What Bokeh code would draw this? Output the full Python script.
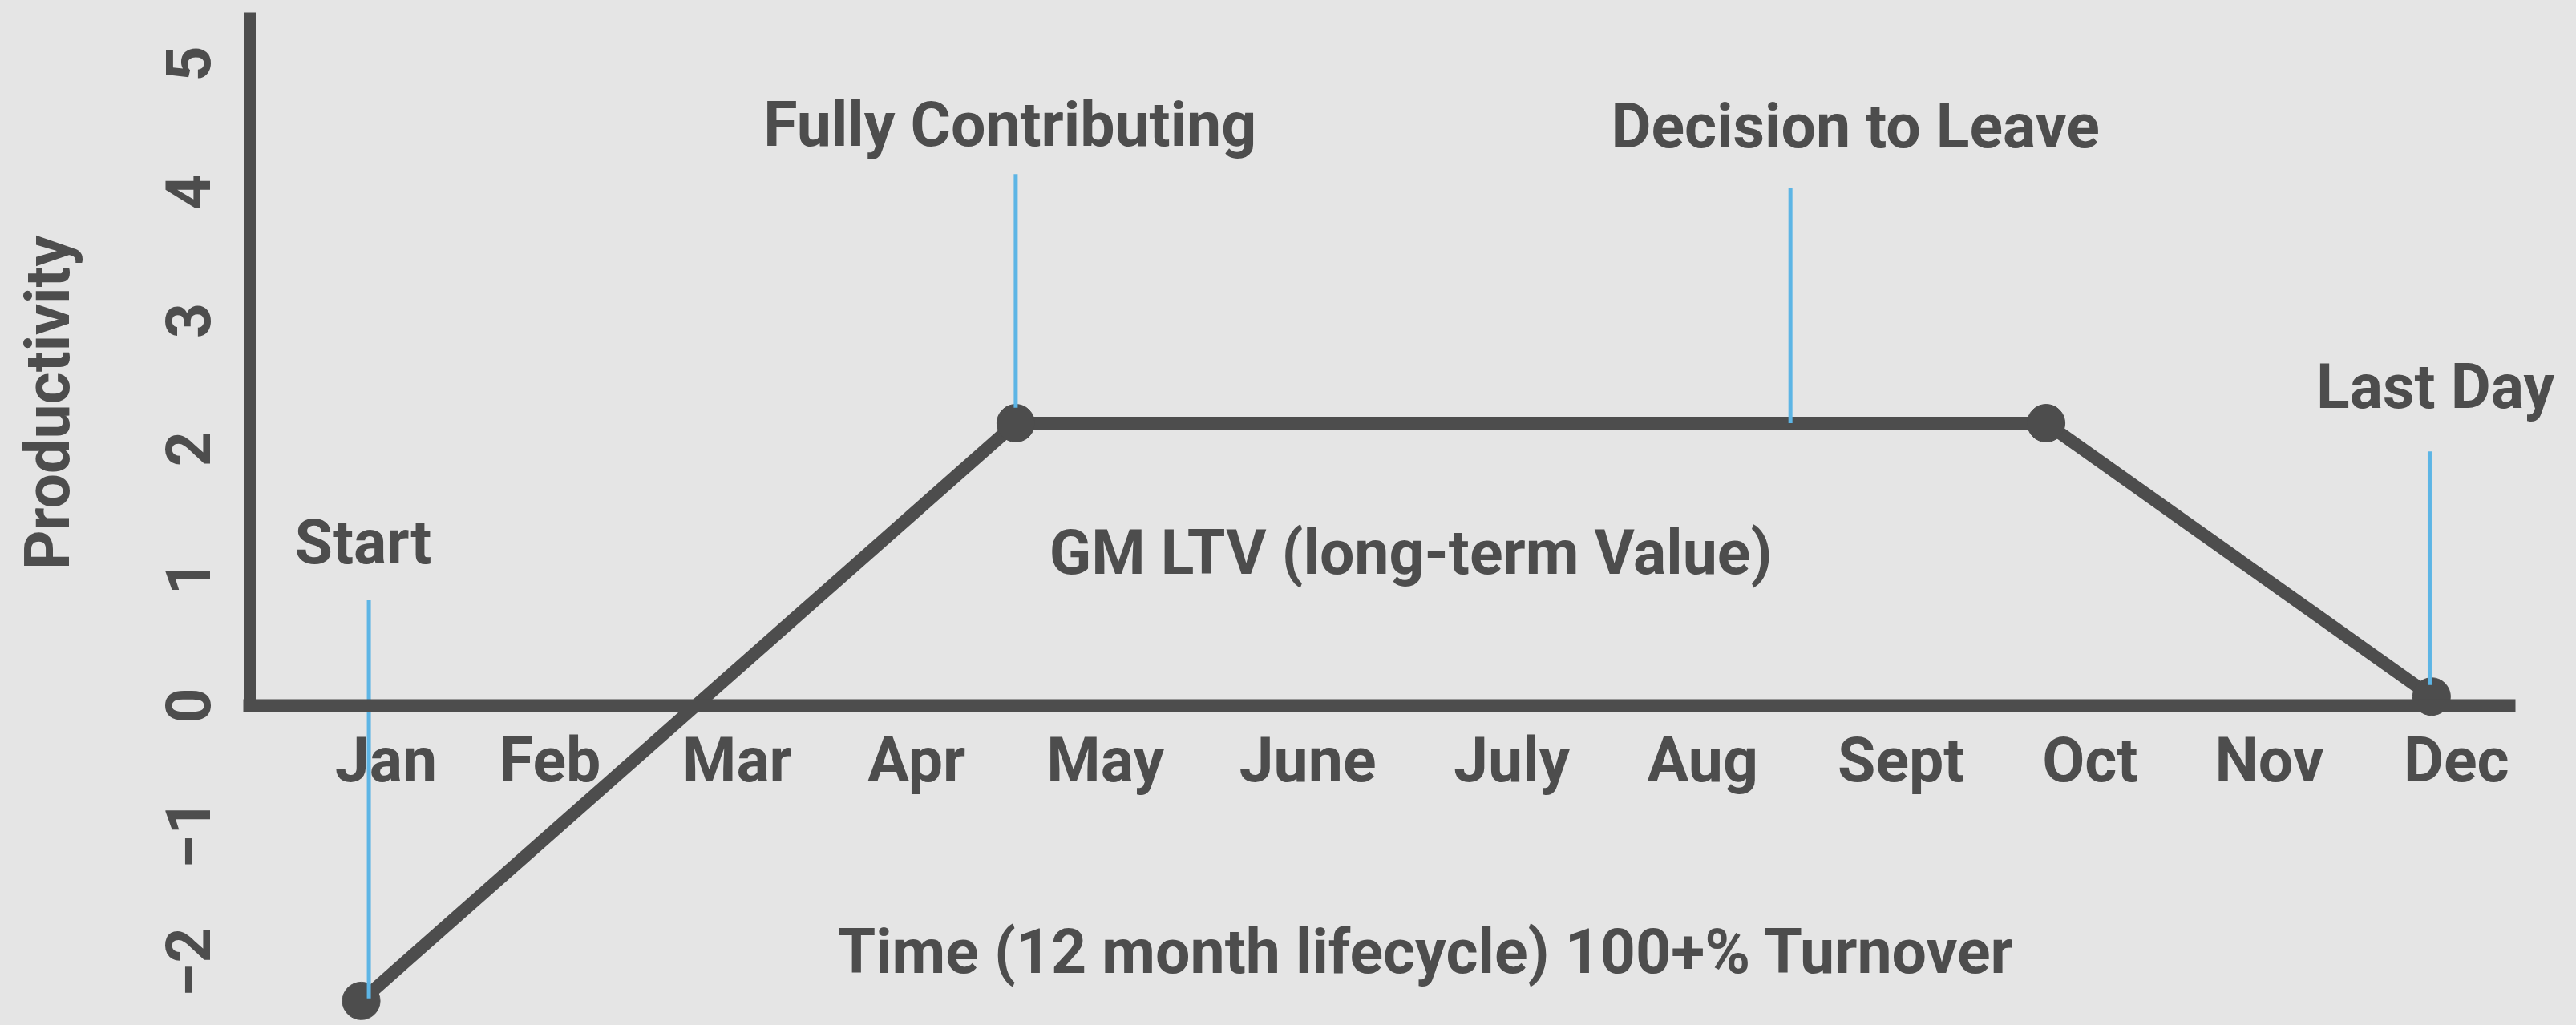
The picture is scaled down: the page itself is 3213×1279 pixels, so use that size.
import math
from bokeh.plotting import figure
from bokeh.models import LinearAxis, FixedTicker, Label, Range1d
from bokeh.embed import file_html
from bokeh.resources import INLINE
from bokeh.core.properties import value

# ---- data -------------------------------------------------------------
months = ["Jan", "Feb", "Mar", "Apr", "May", "June", "July", "Aug", "Sept", "Oct", "Nov", "Dec"]
# where the month names sit along the time axis
month_pos = [0.13, 0.99, 1.97, 2.91, 3.90, 4.96, 6.03, 7.03, 8.07, 9.06, 10.00, 10.98]
y_ticks = [-2, -1, 0, 1, 2, 3, 4, 5]

# employee lifecycle productivity curve (x in months from Jan)
curve_x = [0.0, 3.43, 8.83, 10.85]
curve_y = [-2.3, 2.2, 2.2, 0.07]

# milestone annotations
ann_text = ["Start", "Fully Contributing", "Decision to Leave", "Last Day"]
ann_text_x = [0.01, 3.40, 7.83, 10.87]
ann_text_y = [1.27, 4.52, 4.51, 2.48]
lead_x = [0.04, 3.43, 7.49, 10.84]
lead_top = [0.82, 4.14, 4.03, 1.98]
lead_bottom = [-2.28, 2.32, 2.20, 0.16]

area_text = ["GM LTV (long-term Value)"]
area_x = [5.50]
area_y = [1.19]

x_title = "Time (12 month lifecycle) 100+% Turnover"
y_title = "Productivity"

# axis placement (data coordinates)
Y_AXIS_AT = -0.584
X_AXIS_AT = 0

# ---- style --------------------------------------------------------------
BG = "#E5E5E5"
INK = "#4D4D4D"
BLUE = "#5DB5E5"
FONT = "Roboto"
FS = "77px"

p = figure(width=3213, height=1279, output_backend="svg", toolbar_location=None,
           x_range=Range1d(-1.891, 11.609), y_range=Range1d(-2.491, 5.493),
           min_border_left=0, min_border_right=0, min_border_top=0, min_border_bottom=0)
p.background_fill_color = BG
p.border_fill_color = BG
p.outline_line_color = None
p.grid.visible = False

# x axis drawn along y = 0
xa = p.xaxis[0]
xa.fixed_location = X_AXIS_AT
xa.bounds = (-0.618, 11.29)
xa.ticker = FixedTicker(ticks=month_pos)
xa.major_label_overrides = {v: m for v, m in zip(month_pos, months)}
xa.axis_line_color = INK
xa.axis_line_width = 16
xa.major_tick_line_color = None
xa.minor_tick_line_color = None
xa.major_label_text_font = FONT
xa.major_label_text_font_style = "bold"
xa.major_label_text_font_size = FS
xa.major_label_text_color = INK
xa.major_label_standoff = 18

# y axis tick labels
ya = p.yaxis[0]
ya.fixed_location = Y_AXIS_AT
ya.ticker = FixedTicker(ticks=y_ticks)
ya.axis_line_color = None
ya.major_tick_line_color = None
ya.minor_tick_line_color = None
ya.major_label_orientation = "vertical"
ya.major_label_text_font = FONT
ya.major_label_text_font_style = "bold"
ya.major_label_text_font_size = FS
ya.major_label_text_color = INK
ya.major_label_standoff = 44

# thick vertical axis line from 0 upwards
yline = LinearAxis(fixed_location=Y_AXIS_AT, bounds=(-0.05, 5.40),
                   ticker=FixedTicker(ticks=[]),
                   axis_line_color=INK, axis_line_width=15,
                   major_tick_line_color=None, minor_tick_line_color=None,
                   major_label_text_font_size="0px")
p.add_layout(yline, "left")

# curve
p.line(curve_x, curve_y, line_color=INK, line_width=16)
p.scatter(curve_x, curve_y, size=47, color=INK)

# leader lines
p.segment(x0=lead_x, y0=lead_bottom, x1=lead_x, y1=lead_top, line_color=BLUE, line_width=5)

# milestone texts
p.text(x=ann_text_x, y=ann_text_y, text=ann_text, text_font=value(FONT),
       text_font_style="bold", text_font_size=FS, text_color=INK,
       text_align="center", text_baseline="middle")
p.text(x=area_x, y=area_y, text=area_text, text_font=value(FONT),
       text_font_style="bold", text_font_size=FS, text_color=INK,
       text_align="center", text_baseline="middle")

# axis titles
p.add_layout(Label(x=5.58, y=-1.92, text=x_title, text_font=FONT, text_font_style="bold",
                   text_font_size=FS, text_color=INK, text_align="center",
                   text_baseline="middle"))
p.add_layout(Label(x=-1.639, y=2.36, text=y_title, angle=math.pi / 2,
                   text_font=FONT, text_font_style="bold",
                   text_font_size=FS, text_color=INK, text_align="center",
                   text_baseline="middle"))

html = file_html(p, INLINE)
html = html.replace("</head>", "<style>html,body{background:#E5E5E5;}</style></head>")
open("out.html", "w").write(html)
